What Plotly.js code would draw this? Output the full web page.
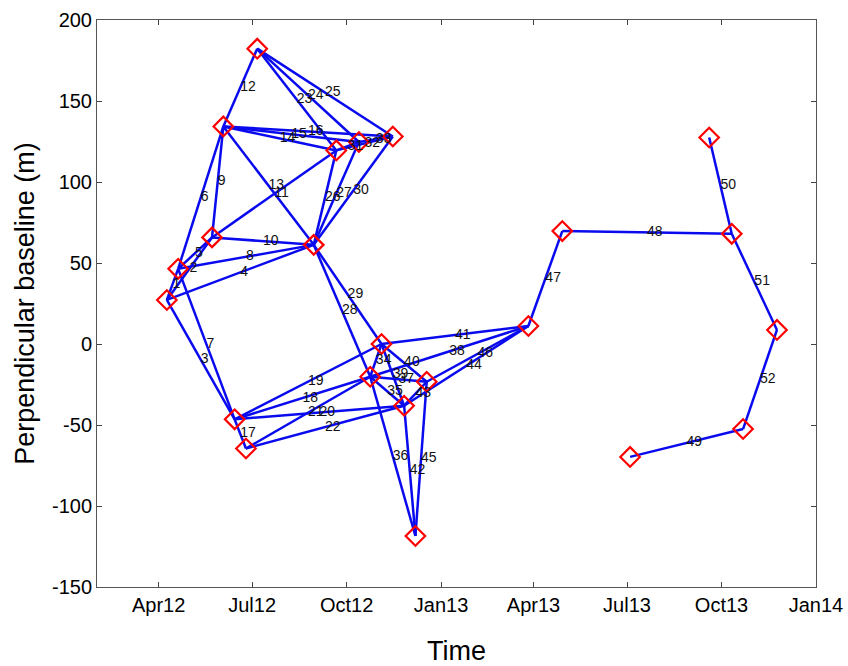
<!DOCTYPE html>
<html>
<head>
<meta charset="utf-8">
<script src="https://cdn.plot.ly/plotly-3.0.1.min.js"></script>
<style>html,body{margin:0;padding:0;background:#fff;}#chart{width:848px;height:666px;}</style>
</head>
<body>
<div id="chart"></div>
<script>
// Acquisition dates (nodes) and perpendicular baselines (m)
const nodeDates = ['2012-04-09','2012-04-20','2012-05-23','2012-06-03','2012-06-14','2012-06-25','2012-07-06',
  '2012-08-30','2012-09-21','2012-10-13','2012-10-24','2012-11-04','2012-11-15','2012-11-26','2012-12-07',
  '2012-12-18','2013-03-27','2013-04-29','2013-07-04','2013-09-19','2013-10-11','2013-10-22','2013-11-24'];
const nodeBaselines = [27.2, 46.4, 65.8, 134.3, -46.5, -64.5, 182.3, 61.2, 119.5, 124.7, -20.2, 0, 128.1,
  -38.1, -118.5, -23.3, 11.1, 69.7, -69.7, 127.5, 68, -52.5, 8.7];
// Interferogram pairs (indices into the node arrays), numbered 1..52
const pairFrom = [0,0,0,0,1,1,1,1,2,2,2,3,3,3,3,3,4,4,4,4,5,5,6,6,6,7,7,7,7,7,8,8,9,10,10,10,10,10,11,11,11,13,13,13,14,15,16,17,18,19,20,21];
const pairTo   = [1,2,4,7,2,3,4,7,3,7,8,6,7,8,9,12,5,10,11,13,10,13,8,9,12,8,9,10,11,12,9,12,12,11,13,14,15,16,13,15,16,14,15,16,15,16,17,20,21,20,22,22];
const pairLabels = pairFrom.map((_, i) => String(i + 1));
// Axis ticks
const tickDates = ['2012-04-01','2012-07-01','2012-10-01','2013-01-01','2013-04-01','2013-07-01','2013-10-01','2014-01-01'];
const tickLabels = ['Apr12','Jul12','Oct12','Jan13','Apr13','Jul13','Oct13','Jan14'];
const yTicks = [-150,-100,-50,0,50,100,150,200];
const yTickLabels = ['-150','-100','-50','0','50','100','150','200'];

const ms = d => Date.parse(d + 'T00:00:00Z');
const lx = [], ly = [], mx = [], my = [];
for (let i = 0; i < pairFrom.length; i++) {
  const a = pairFrom[i], b = pairTo[i];
  lx.push(nodeDates[a], nodeDates[b], null);
  ly.push(nodeBaselines[a], nodeBaselines[b], null);
  const mid = new Date((ms(nodeDates[a]) + ms(nodeDates[b])) / 2);
  mx.push(mid.toISOString().slice(0, 19).replace('T', ' '));
  my.push((nodeBaselines[a] + nodeBaselines[b]) / 2);
}

const traces = [
  {x: lx, y: ly, mode: 'lines', type: 'scatter', line: {color: '#0a0aee', width: 2.5}, hoverinfo: 'skip', showlegend: false},
  {x: nodeDates, y: nodeBaselines, mode: 'markers', type: 'scatter',
   marker: {symbol: 'diamond-open', size: 15, color: '#ff0000', line: {color: '#ff0000', width: 2.2}}, showlegend: false},
  {x: mx, y: my, mode: 'text', type: 'scatter', text: pairLabels, textposition: 'middle right',
   textfont: {family: 'Liberation Sans, Arial, sans-serif', size: 14, color: '#111'}, showlegend: false, hoverinfo: 'skip'}
];

const layout = {
  width: 848, height: 666,
  margin: {l: 97, r: 32, t: 20, b: 79},
  paper_bgcolor: '#fff', plot_bgcolor: '#fff',
  font: {family: 'Liberation Sans, Arial, sans-serif', color: '#000'},
  xaxis: {
    type: 'date', range: ['2012-02-01', '2014-01-01'],
    tickvals: tickDates, ticktext: tickLabels,
    ticks: 'inside', ticklen: 5, tickcolor: '#444', tickwidth: 1,
    showline: true, linecolor: '#555', linewidth: 1, mirror: 'ticks',
    showgrid: false, zeroline: false,
    tickfont: {size: 20, color: '#000'},
    title: {text: 'Time', font: {size: 27, color: '#000'}, standoff: 26}
  },
  yaxis: {
    range: [-150, 200], tickvals: yTicks, ticktext: yTickLabels,
    ticks: 'inside', ticklen: 5, tickcolor: '#444', tickwidth: 1,
    showline: true, linecolor: '#555', linewidth: 1, mirror: 'ticks',
    showgrid: false, zeroline: false,
    tickfont: {size: 20, color: '#000'},
    title: {text: 'Perpendicular baseline (m)', font: {size: 27, color: '#000'}, standoff: 9}
  }
};

Plotly.newPlot('chart', traces, layout, {displayModeBar: false, staticPlot: true});
</script>
</body>
</html>
